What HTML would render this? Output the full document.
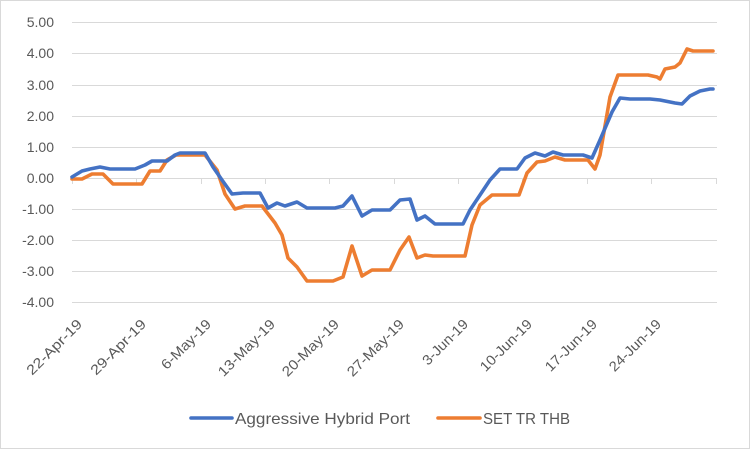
<!DOCTYPE html>
<html><head><meta charset="utf-8"><style>
html,body{margin:0;padding:0;background:#fff}
svg{display:block}
text{font-family:"Liberation Sans",sans-serif;fill:#595959}
</style></head><body>
<svg width="750" height="449" viewBox="0 0 750 449" xmlns="http://www.w3.org/2000/svg">
<rect x="0.5" y="0.5" width="749" height="448" fill="#fff" stroke="#d9d9d9"/>
<g stroke="#d9d9d9" stroke-width="1">
<line x1="72" x2="717" y1="22.5" y2="22.5"/>
<line x1="72" x2="717" y1="53.5" y2="53.5"/>
<line x1="72" x2="717" y1="85.5" y2="85.5"/>
<line x1="72" x2="717" y1="116.5" y2="116.5"/>
<line x1="72" x2="717" y1="147.5" y2="147.5"/>
<line x1="72" x2="717" y1="209.5" y2="209.5"/>
<line x1="72" x2="717" y1="240.5" y2="240.5"/>
<line x1="72" x2="717" y1="271.5" y2="271.5"/>
<line x1="72" x2="717" y1="302.5" y2="302.5"/>
<line x1="72" x2="717" y1="178.5" y2="178.5"/>
<line x1="72.5" x2="72.5" y1="178" y2="184"/>
<line x1="136.5" x2="136.5" y1="178" y2="184"/>
<line x1="201.5" x2="201.5" y1="178" y2="184"/>
<line x1="265.5" x2="265.5" y1="178" y2="184"/>
<line x1="329.5" x2="329.5" y1="178" y2="184"/>
<line x1="394.5" x2="394.5" y1="178" y2="184"/>
<line x1="458.5" x2="458.5" y1="178" y2="184"/>
<line x1="522.5" x2="522.5" y1="178" y2="184"/>
<line x1="587.5" x2="587.5" y1="178" y2="184"/>
<line x1="651.5" x2="651.5" y1="178" y2="184"/>
<line x1="716.5" x2="716.5" y1="178" y2="184"/>
</g>
<g font-size="14" text-anchor="end">
<text x="54" y="27">5.00</text>
<text x="54" y="58">4.00</text>
<text x="54" y="90">3.00</text>
<text x="54" y="121">2.00</text>
<text x="54" y="152">1.00</text>
<text x="54" y="183">0.00</text>
<text x="54" y="214">-1.00</text>
<text x="54" y="245">-2.00</text>
<text x="54" y="276">-3.00</text>
<text x="54" y="307">-4.00</text>
</g>
<g font-size="14" text-anchor="end">
<text transform="translate(83,325) rotate(-45)" textLength="72" lengthAdjust="spacingAndGlyphs">22-Apr-19</text>
<text transform="translate(147,325) rotate(-45)" textLength="72" lengthAdjust="spacingAndGlyphs">29-Apr-19</text>
<text transform="translate(212,325) rotate(-45)" textLength="64" lengthAdjust="spacingAndGlyphs">6-May-19</text>
<text transform="translate(276,325) rotate(-45)" textLength="74" lengthAdjust="spacingAndGlyphs">13-May-19</text>
<text transform="translate(340,325) rotate(-45)" textLength="74" lengthAdjust="spacingAndGlyphs">20-May-19</text>
<text transform="translate(405,325) rotate(-45)" textLength="74" lengthAdjust="spacingAndGlyphs">27-May-19</text>
<text transform="translate(469,325) rotate(-45)" textLength="58" lengthAdjust="spacingAndGlyphs">3-Jun-19</text>
<text transform="translate(533,325) rotate(-45)" textLength="67" lengthAdjust="spacingAndGlyphs">10-Jun-19</text>
<text transform="translate(598,325) rotate(-45)" textLength="67" lengthAdjust="spacingAndGlyphs">17-Jun-19</text>
<text transform="translate(662,325) rotate(-45)" textLength="67" lengthAdjust="spacingAndGlyphs">24-Jun-19</text>
</g>
<polyline fill="none" stroke="#ed7d31" stroke-width="3.6" stroke-linejoin="round" stroke-linecap="round" points="72,179 82,179 92,174 103,174 113,184 142,184 150,171 160,171 167,160 176,155 205,155 217,170 225,194 235,209 245,206 252,206 262,206 275,223 282,235 288,258 297,267 307,281 333,281 343,277 352,246 362,276 372,270 390,270 400,250 409,237 417,258 425,255 433,256 465,256 472,225 480,205 492,195 519,195 527,173 537,162 545,161 555,157 565,160 588,160 595,169 600,155 610,97 618,75 648,75 657,77 660,79 665,69 675,67 680,63 687,49 693,51 713,51"/>
<polyline fill="none" stroke="#4472c4" stroke-width="3.6" stroke-linejoin="round" stroke-linecap="round" points="72,177 82,171 90,169 100,167 110,169 135,169 145,165 152,161 167,161 175,155 180,153 205,153 213,167 222,180 232,194 243,193 260,193 268,208 277,203 285,206 297,202 307,208 335,208 343,206 352,196 362,216 372,210 390,210 400,200 410,199 417,220 425,216 435,224 463,224 470,210 480,195 490,180 500,169 517,169 525,158 535,153 545,156 553,152 563,155 583,155 592,158 600,140 612,112 620,98 630,99 650,99 660,100 675,103 682,104 690,96 700,91 710,89 713,89"/>
<line x1="191" x2="232" y1="418" y2="418" stroke="#4472c4" stroke-width="3.6" stroke-linecap="round"/>
<text x="235" y="424" font-size="16" textLength="175" lengthAdjust="spacingAndGlyphs">Aggressive Hybrid Port</text>
<line x1="438" x2="480" y1="418" y2="418" stroke="#ed7d31" stroke-width="3.6" stroke-linecap="round"/>
<text x="483" y="424" font-size="16" textLength="87" lengthAdjust="spacingAndGlyphs">SET TR THB</text>
</svg>
</body></html>
